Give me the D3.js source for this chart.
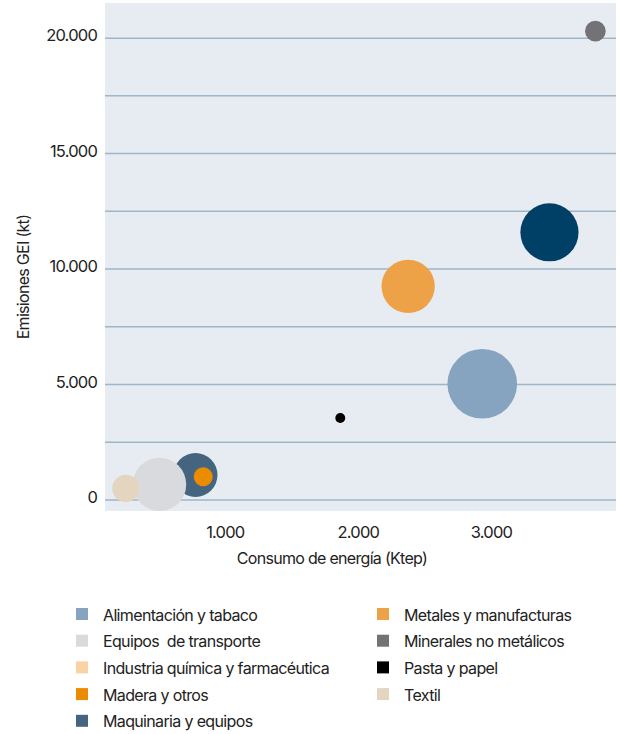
<!DOCTYPE html>
<html>
<head>
<meta charset="utf-8">
<script src="https://cdn.jsdelivr.net/npm/d3@7"></script>
<style>
  body { margin: 0; background: #fff; }
  text { font-family: Inter, "Noto Sans", sans-serif; fill: #222; }
</style>
</head>
<body>
<div id="chart"></div>
<script>
// sectors, legend order
const sectors = ["Alimentación y tabaco", "Equipos  de transporte", "Industria química y farmacéutica",
    "Madera y otros", "Maquinaria y equipos", "Metales y manufacturas",
    "Minerales no metálicos", "Pasta y papel", "Textil"];
// energy use (ktep), emissions (kt), bubble size
const energy = [2935, 510, 3440, 838, 780, 2378, 3785, 1868, 257];
const emissions = [5010, 650, 11570, 985, 1060, 9230, 20280, 3530, 480];
const sizes = [99, 58, 69, 7.4, 39.5, 58, 8.7, 2, 15.3];
const legendColors = ["#86a4c0", "#d9dadd", "#f9d3a6", "#eb8b00", "#456480", "#eea248", "#737277", "#000000", "#e3d5c0"];
const bubbleColors = ["#86a4c0", "#d9dadd", "#003f66", "#eb8b00", "#456480", "#eea248", "#737277", "#000000", "#e3d5c0"];
// painting order of bubbles
const drawOrder = [0, 2, 5, 4, 3, 1, 8, 6, 7];
const gridTicks = [0, 2500, 5000, 7500, 10000, 12500, 15000, 17500, 20000];
const yLabelTicks = [0, 5000, 10000, 15000, 20000];
const xLabelTicks = [1000, 2000, 3000];

const W = 617, H = 734;
const plotL = 105, plotR = 616, plotT = 3, plotB = 511;

const loc = d3.formatLocale({decimal: ",", thousands: ".", grouping: [3], currency: ["", ""]});
const fmt = loc.format(",d");

const svg = d3.select("#chart").append("svg")
    .attr("width", W)
    .attr("height", H);

const x = d3.scaleLinear().domain([100, 3940]).range([plotL, plotR]);
const y = d3.scaleLinear().domain([-500, 21500]).range([plotB, plotT]);
const r = d3.scaleSqrt().domain([0, 100]).range([0, 35]);

// plot background
svg.append("rect")
    .attr("x", plotL).attr("y", plotT)
    .attr("width", plotR - plotL).attr("height", plotB - plotT)
    .attr("fill", "#e6ecf1");

// gridlines
const grid = svg.append("g")
    .attr("transform", `translate(${plotL},0)`)
    .call(d3.axisLeft(y).tickValues(gridTicks).tickSize(-(plotR - plotL)).tickFormat(""));
grid.select(".domain").remove();
grid.selectAll("line").attr("stroke", "#9fb5c8").attr("stroke-width", 1.5);

// y labels
const yAx = svg.append("g")
    .attr("transform", `translate(${plotL},-2)`)
    .call(d3.axisLeft(y).tickValues(yLabelTicks).tickSize(0).tickPadding(8).tickFormat(fmt));
yAx.select(".domain").remove();
yAx.selectAll("text").attr("font-size", 16.5).style("font-family", "Inter, sans-serif")
    .style("letter-spacing", "-0.8px").attr("fill", "#222");

// x labels
const xAx = svg.append("g")
    .attr("transform", `translate(0,${plotB})`)
    .call(d3.axisBottom(x).tickValues(xLabelTicks).tickSize(0).tickPadding(15).tickFormat(fmt));
xAx.select(".domain").remove();
xAx.selectAll("text").attr("font-size", 16.5).style("font-family", "Inter, sans-serif")
    .style("letter-spacing", "-0.8px").attr("fill", "#222");

// axis titles
svg.append("text")
    .attr("x", 332).attr("y", 564)
    .attr("text-anchor", "middle")
    .attr("font-size", 16)
    .style("letter-spacing", "-0.7px")
    .text("Consumo de energía (Ktep)");

svg.append("text")
    .attr("transform", "translate(29,277) rotate(-90)")
    .attr("text-anchor", "middle")
    .attr("font-size", 16)
    .style("letter-spacing", "-0.7px")
    .text("Emisiones GEI (kt)");

// bubbles
svg.append("g").selectAll("circle")
    .data(drawOrder)
    .join("circle")
    .attr("cx", i => x(energy[i]))
    .attr("cy", i => y(emissions[i]))
    .attr("r", i => r(sizes[i]))
    .attr("fill", i => bubbleColors[i]);

// legend
const leg = svg.append("g").selectAll("g")
    .data(sectors)
    .join("g")
    .attr("transform", (d, i) => {
        const col = i < 5 ? 0 : 1;
        const row = i < 5 ? i : i - 5;
        return `translate(${col ? 377 : 76},${615 + row * 26.7})`;
    });
leg.append("rect")
    .attr("x", 0).attr("y", -7)
    .attr("width", 12).attr("height", 12)
    .attr("fill", (d, i) => legendColors[i]);
leg.append("text")
    .attr("x", 27).attr("y", 0)
    .attr("dy", "0.35em")
    .attr("font-size", 16)
    .style("letter-spacing", "-0.65px")
    .style("white-space", "pre")
    .text(d => d);
</script>
</body>
</html>
